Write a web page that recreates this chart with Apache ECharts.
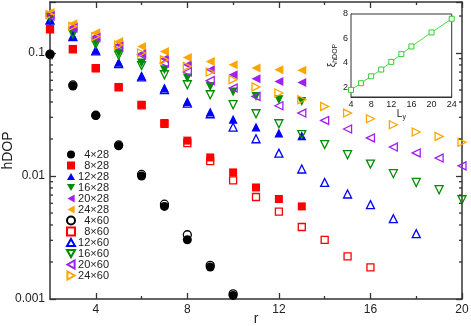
<!DOCTYPE html>
<html>
<head>
<meta charset="utf-8">
<script src="https://cdn.jsdelivr.net/npm/echarts@6/dist/echarts.min.js"></script>
<style>html,body{margin:0;padding:0;background:#fff}#c{width:471px;height:326px}</style>
</head>
<body>
<div id="c"></div>
<script>
// r values start at 2 and step by 1
const rStart = 2;
const hdop_4x28  = [0.097,0.054,0.031,0.0176,0.0100,0.00566,0.00303,0.00182,0.00107];
const hdop_8x28  = [0.157,0.108,0.0755,0.053,0.038,0.027,0.0194,0.01416,0.0107,0.00807,0.0065,0.00566];
const hdop_12x28 = [0.187,0.138,0.106,0.084,0.0654,0.0519,0.0404,0.0331,0.029,0.025,0.0224,0.0213];
const hdop_16x28 = [0.197,0.146,0.122,0.100,0.083,0.0732,0.0626,0.0535,0.0482,0.0444,0.0417,0.0404];
const hdop_20x28 = [0.205,0.163,0.136,0.117,0.0987,0.0899,0.0804,0.0732,0.0666,0.0618,0.0588,0.0577];
const hdop_24x28 = [0.214,0.173,0.146,0.124,0.113,0.103,0.092,0.0855,0.0804,0.0755,0.0732,0.0723];
const hdop_4x60  = [0.098,0.055,0.0312,0.0179,0.0103,0.0059,0.00333,0.00188,0.0011];
const hdop_8x60  = [0.156,0.107,0.075,0.0525,0.0376,0.0265,0.0185,0.0132,0.0092,0.00675,0.00513,0.00385,0.00303,0.00222,0.00181];
const hdop_12x60 = [0.185,0.136,0.104,0.082,0.064,0.0505,0.0391,0.0321,0.025,0.0201,0.01535,0.0114,0.00887,0.00714,0.00585,0.0045,0.0034];
const hdop_16x60 = [0.195,0.143,0.118,0.096,0.079,0.0666,0.0552,0.0458,0.038,0.0321,0.0266,0.0217,0.018,0.0149,0.0125,0.01045,0.00887,0.00774,0.00641];
const hdop_20x60 = [0.2,0.16,0.133,0.113,0.097,0.0829,0.0701,0.0596,0.0519,0.0444,0.0373,0.0325,0.0283,0.0241,0.0204,0.0172,0.0154,0.014,0.0121];
const hdop_24x60 = [0.205,0.165,0.136,0.116,0.1,0.088,0.0778,0.0701,0.0607,0.053,0.0473,0.0417,0.0368,0.0325,0.0292,0.0261,0.0228,0.021,0.0188];

const seriesNames = ['4×28','8×28','12×28','16×28','20×28','24×28','4×60','8×60','12×60','16×60','20×60','24×60'];
const xTicksMajor = [4,8,12,16,20];
const xTicksMinor = [6,10,14,18];
const yLogMinor = [0.002,0.003,0.004,0.005,0.006,0.007,0.008,0.009,0.02,0.03,0.04,0.05,0.06,0.07,0.08,0.09,0.2];

// inset: correlation length vs L_y
const insetLy = [4,6,8,10,12,14,16,20,24];
const insetXi = [1.78,2.33,2.9,3.45,4.08,4.71,5.34,6.49,7.61];
const insetYTicks = [2,4,6,8];

const FONT = 'Liberation Sans, Arial, sans-serif';
const AX = '#333';
const colors = ['#000000','#ff0000','#0000ff','#008c00','#a020f0','#ffa500'];
const TRI_UP = 'path://M5,0L10,9L0,9Z';
const TRI_DOWN = 'path://M0,0L10,0L5,9Z';
const TRI_LEFT = 'path://M0,5L9,0L9,10Z';
const TRI_RIGHT = 'path://M0,0L9,5L0,10Z';
const symbolsFilled = ['circle','rect',TRI_UP,TRI_DOWN,TRI_LEFT,TRI_LEFT];
const symbolsOpen = ['circle','rect',TRI_UP,TRI_DOWN,TRI_LEFT,TRI_RIGHT];
const sizesFilled = [9,8,9,9,9,9];
const sizesOpen = [8,7,8,8,8,8];

const allData = [hdop_4x28,hdop_8x28,hdop_12x28,hdop_16x28,hdop_20x28,hdop_24x28,
                 hdop_4x60,hdop_8x60,hdop_12x60,hdop_16x60,hdop_20x60,hdop_24x60];

const scatterSeries = allData.map((arr, i) => {
  const k = i % 6, open = i >= 6;
  return {
    name: seriesNames[i], type: 'scatter', xAxisIndex: 0, yAxisIndex: 0, clip: false,
    symbol: open ? symbolsOpen[k] : symbolsFilled[k],
    symbolSize: open ? sizesOpen[k] : sizesFilled[k],
    itemStyle: open ? {color: 'rgba(255,255,255,0)', borderColor: colors[k], borderWidth: 1.3, opacity: 1}
                    : {color: colors[k], opacity: 1},
    emphasis: {disabled: true},
    data: arr.map((v, j) => [rStart + j, v]),
    z: open ? 3 : 2
  };
});

const legendData = seriesNames.map((n, i) => {
  const k = i % 6, open = i >= 6;
  return {name: n, icon: open ? symbolsOpen[k] : symbolsFilled[k]};
});

function majorX(pos, labels) {
  return {
    type: 'value', gridIndex: 0, position: pos, min: 2, max: 20,
    axisLine: {show: true, onZero: false, lineStyle: {color: AX, width: 1.5}},
    axisTick: {show: true, inside: true, length: 6, customValues: xTicksMajor, lineStyle: {color: AX, width: 1.3}},
    axisLabel: labels ? {show: true, customValues: xTicksMajor, fontSize: 12, color: '#222', fontFamily: FONT, margin: 5} : {show: false},
    splitLine: {show: false}
  };
}
function minorX(pos) {
  return {
    type: 'value', gridIndex: 0, position: pos, min: 2, max: 20,
    axisLine: {show: false, onZero: false},
    axisTick: {show: true, inside: true, length: 3, customValues: xTicksMinor, lineStyle: {color: AX, width: 1.3}},
    axisLabel: {show: false}, splitLine: {show: false}
  };
}

const xA0 = majorX('bottom', true);
xA0.name = 'r'; xA0.nameLocation = 'middle'; xA0.nameGap = 13; xA0.nameMoveOverlap = false;
xA0.nameTextStyle = {fontSize: 14, color: '#222', fontFamily: FONT};

function isPow10(v) { const l = Math.log10(v); return Math.abs(l - Math.round(l)) < 1e-6; }

function tickSeries(xv, off) {
  return {
    type: 'scatter', xAxisIndex: 0, yAxisIndex: 0, silent: true, clip: false, z: 4,
    symbol: 'rect', symbolSize: [3, 1.3], symbolOffset: [off, 0],
    itemStyle: {color: AX, opacity: 1}, emphasis: {disabled: true},
    data: yLogMinor.map(v => [xv, v])
  };
}

const option = {
  animation: false,
  backgroundColor: '#fff',
  textStyle: {fontFamily: FONT},
  grid: [
    {left: 50, right: 9, top: 2, bottom: 27, containLabel: false, outerBoundsMode: 'none'},
    {left: 351, top: 14, width: 100.7, height: 83, show: true, backgroundColor: '#fff', borderColor: AX, borderWidth: 1, z: 5, containLabel: false, outerBoundsMode: 'none'}
  ],
  legend: {
    data: legendData, orient: 'vertical', left: 66, top: 149,
    itemWidth: 8, itemHeight: 8, itemGap: 0, padding: 0,
    formatter: n => '{t|' + n + '}',
    textStyle: {fontSize: 11, color: '#222', fontFamily: FONT, lineHeight: 10.8,
      rich: {t: {width: 29, align: 'right', fontSize: 11, lineHeight: 10.8, fontFamily: FONT, color: '#222'}}}
  },
  xAxis: [
    xA0, minorX('bottom'), majorX('top', false), minorX('top'),
    {
      type: 'value', gridIndex: 1, min: 4, max: 24, interval: 4,
      axisLine: {show: true, onZero: false, lineStyle: {color: AX, width: 1}},
      axisTick: {show: true, inside: true, length: 3, lineStyle: {color: AX}},
      axisLabel: {fontSize: 9, color: '#222', margin: 3, fontFamily: FONT},
      splitLine: {show: false},
      name: '{a|L}{b|y}', nameLocation: 'middle', nameGap: 11, nameMoveOverlap: false,
      nameTextStyle: {rich: {a: {fontSize: 10, lineHeight: 13, color: '#222', fontFamily: FONT}, b: {fontSize: 7, lineHeight: 13, color: '#222', fontFamily: FONT, verticalAlign: 'bottom'}}}
    }
  ],
  yAxis: [
    {
      type: 'log', logBase: 10, gridIndex: 0, position: 'left', min: 0.001, max: 0.26,
      axisLine: {show: true, onZero: false, lineStyle: {color: AX, width: 1.5}},
      axisTick: {show: true, inside: true, length: 6, lineStyle: {color: AX, width: 1.3}},
      axisLabel: {fontSize: 12, color: '#222', fontFamily: FONT, margin: 5,
        formatter: v => isPow10(v) ? String(Number(v.toPrecision(3))) : ''},
      splitLine: {show: false},
      name: 'hDOP', nameLocation: 'middle', nameGap: 35, nameMoveOverlap: false,
      nameTextStyle: {fontSize: 14, color: '#222', fontFamily: FONT}
    },
    {
      type: 'log', logBase: 10, gridIndex: 0, position: 'right', min: 0.001, max: 0.26,
      axisLine: {show: true, onZero: false, lineStyle: {color: AX, width: 1.5}},
      axisTick: {show: true, inside: true, length: 6, lineStyle: {color: AX, width: 1.3}},
      axisLabel: {show: false}, splitLine: {show: false}
    },
    {
      type: 'value', gridIndex: 1, min: 1.2, max: 8,
      axisLine: {show: true, onZero: false, lineStyle: {color: AX, width: 1}},
      axisTick: {show: true, inside: true, length: 3, customValues: insetYTicks, lineStyle: {color: AX}},
      axisLabel: {fontSize: 9, color: '#222', margin: 3, customValues: insetYTicks, fontFamily: FONT},
      splitLine: {show: false},
      name: '{a|ξ}{b|hDOP}', nameLocation: 'middle', nameGap: 12, nameRotate: 90, nameMoveOverlap: false,
      nameTextStyle: {rich: {a: {fontSize: 10, lineHeight: 13, color: '#222', fontFamily: FONT}, b: {fontSize: 7, lineHeight: 13, color: '#222', fontFamily: FONT, verticalAlign: 'bottom'}}}
    }
  ],
  series: scatterSeries.concat([
    tickSeries(2, 1.5),
    tickSeries(20, -1.5),
    {
      type: 'line', xAxisIndex: 4, yAxisIndex: 2, z: 6,
      data: insetLy.map((x, i) => [x, insetXi[i]]),
      symbol: 'rect', symbolSize: 5, showSymbol: true,
      lineStyle: {color: '#44dd44', width: 1},
      itemStyle: {color: '#fff', borderColor: '#33cc33', borderWidth: 1},
      emphasis: {disabled: true}
    }
  ])
};

const chart = echarts.init(document.getElementById('c'), null, {renderer: 'canvas'});
chart.setOption(option);
</script>
</body>
</html>
